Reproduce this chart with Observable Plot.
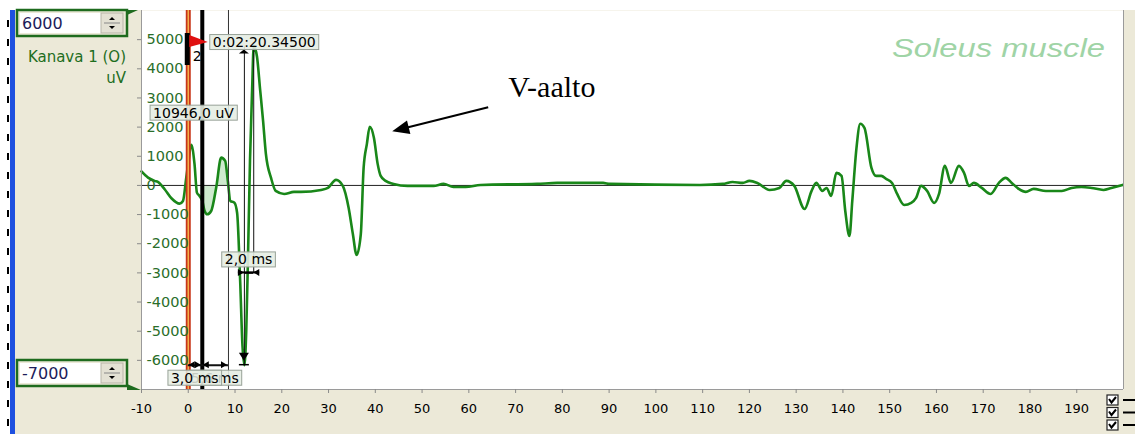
<!DOCTYPE html>
<html>
<head>
<meta charset="utf-8">
<script src="https://cdn.jsdelivr.net/npm/d3@7"></script>
<script src="https://cdn.jsdelivr.net/npm/@observablehq/plot@0.6"></script>
<style>
  html, body { margin: 0; padding: 0; background: #fff; }
  #chart { position: relative; width: 1135px; height: 434px; overflow: hidden; background: #fff; }
  #panel { position: absolute; left: 15px; top: 10px; width: 1120px; height: 424px; background: #ece9d8; }
  #chart svg { position: absolute; left: 0; top: 0; }
</style>
</head>
<body>
<div id="chart"><div id="panel"></div></div>
<script>
// EMG sweep, channel 1: time after stimulus (ms) and amplitude (uV)
const timeMs = [
  -10, -8.6, -7.2, -6.5, -5.05, -3.6, -1.85, -1.13, -0.43, 0.06,
  0.64, 1.34, 1.85, 2.41, 3.0, 3.5, 4.05, 4.9, 5.97, 7.04,
  7.9, 8.46, 9.0, 9.87, 10.45, 11.1, 11.6, 12.0, 12.4, 12.8,
  13.2, 13.65, 14.0, 14.7, 15.35, 16.0, 16.6, 17.7, 18.7, 20.5,
  22.6, 24.1, 28.4, 29.85, 31.6, 33.05, 34.3, 35.2, 36.0, 36.9,
  37.5, 38.2, 38.8, 39.7, 40.5, 41.15, 42.2, 43.9, 46.9, 52.45,
  54.6, 56.7, 59.3, 62.5, 74.6, 78.9, 88.7, 90.2, 109.4, 114.3,
  116.4, 118.6, 120.0, 121.7, 124.3, 126.4, 127.9, 129.6, 131.8, 133.3,
  134.3, 135.6, 136.5, 137.5, 138.6, 139.7, 140.5, 141.4, 142.0, 142.9,
  143.7, 144.6, 146.1, 147.1, 148.2, 149.25, 150.5, 151.6, 153.1, 154.6,
  155.65, 156.7, 158.0, 159.5, 160.55, 161.8, 163.1, 164.8, 165.9, 166.95,
  168.0, 169.7, 171.6, 173.35, 174.8, 176.1, 177.6, 179.1, 180.8, 183.4,
  186.8, 188.9, 191.0, 193.2, 195.7, 197.4, 199.8
];
const microvolts = [
  480, 268, 155, 120, -130, -440, -625, -533, 268, 842,
  1392, 729, -247, -361, -530, -876, -990, -876, -76, 955,
  842, 155, -533, -591, -945, -3280, -5515, -6166, -5000, -2250,
  840, 3250, 4780, 4415, 3313, 2216, 1082, 258, -189, -292,
  -223, -223, -155, -86, 189, -17, -773, -1667, -2388, -1667,
  601, 1426, 2010, 1632, 739, 326, 155, 52, -17, -17,
  52, -52, -52, 17, 52, 86, 86, 52, 17, 52,
  120, 86, 155, 86, -155, -86, 155, -17, -808, -189,
  86, -189, -86, -361, 430, 326, -876, -1735, -533, 1289,
  2113, 1976, 601, 326, 326, 223, 86, -292, -670, -601,
  -430, -17, -189, -601, -292, 670, 86, 670, 430, -17,
  86, -86, -292, 86, 258, 86, -120, -223, -120, -189,
  -189, -86, -52, -86, -155, -86, 17
];

// Axis settings
const xDomain = [-10, 200];
const yDomain = [-7000, 6000];
const xTicks = [-10, 0, 10, 20, 30, 40, 50, 60, 70, 80, 90, 100, 110, 120, 130, 140, 150, 160, 170, 180, 190];
const yTicks = [5000, 4000, 3000, 2000, 1000, 0, -1000, -2000, -3000, -4000, -5000, -6000];

// Cursors (ms) and event marker
const cursorTimes = [0, 3.0, 8.6];
const markerNumber = "2";
const markerClock = "0:02:20.34500";
const channelName = "Kanava 1 (O)";
const channelUnit = "uV";
const muscleName = "Soleus muscle";
const waveName = "V-aalto";

const data = timeMs.map((t, i) => ({t, v: microvolts[i]}));

// M-wave: trough and peak inside the early window
const early = data.filter(d => d.t > 10 && d.t < 20);
const trough = d3.least(early, d => d.v);
const peak = d3.greatest(early, d => d.v);
const amplitude = peak.v - trough.v;
const latency = peak.t - trough.t;
// V-wave: largest deflection between 30 and 50 ms
const vWave = d3.greatest(data.filter(d => d.t > 30 && d.t < 50), d => d.v);

const fmt = v => v.toFixed(1).replace(".", ",");
const ampLabelLevel = 2480;
const latencyLevel = -3000;

const GREEN = "#198719";

const plot = Plot.plot({
  width: 1135,
  height: 434,
  marginLeft: 141,
  marginRight: 12,
  marginTop: 10,
  marginBottom: 45,
  style: {background: "transparent", fontFamily: "'DejaVu Sans', sans-serif", overflow: "visible"},
  x: {domain: xDomain},
  y: {domain: yDomain},
  marks: [
    Plot.frame({fill: "white", stroke: null}),
    // shaded area between the two right-hand cursors
    Plot.areaY(data.filter(d => d.t >= cursorTimes[1] && d.t <= cursorTimes[2]),
      {x: "t", y1: 0, y2: "v", fill: "#a6d8a6", fillOpacity: 0.55, curve: "monotone-x"}),
    Plot.ruleY([0], {stroke: "#222", strokeWidth: 1}),
    Plot.line(data, {x: "t", y: "v", stroke: GREEN, strokeWidth: 2.6, curve: "monotone-x"}),
    // cursors
    Plot.ruleX([cursorTimes[0]], {stroke: "#c8361a", strokeWidth: 5}),
    Plot.ruleX([cursorTimes[0]], {stroke: "#f3b04a", strokeWidth: 1.5}),
    Plot.ruleX([cursorTimes[1]], {stroke: "#000", strokeWidth: 4}),
    Plot.ruleX([cursorTimes[2]], {stroke: "#333", strokeWidth: 1}),
    // amplitude and latency measurement lines
    Plot.ruleX([trough.t], {y1: trough.v, y2: peak.v, stroke: "#111", strokeWidth: 1}),
    Plot.ruleX([peak.t], {y1: latencyLevel, y2: peak.v, stroke: "#111", strokeWidth: 1}),
    Plot.ruleY([latencyLevel], {x1: trough.t, x2: peak.t, stroke: "#111", strokeWidth: 2}),
    Plot.ruleY([trough.v], {x1: cursorTimes[0], x2: cursorTimes[2], stroke: "#111", strokeWidth: 2}),
    // plot borders
    Plot.ruleX(xDomain, {stroke: "#9a9a9a", strokeWidth: 1}),
    Plot.ruleY([yDomain[0]], {stroke: "#9a9a9a", strokeWidth: 1}),
    // axes
    Plot.axisX({ticks: xTicks, tickFormat: d => String(d), tickSize: 4, tickPadding: 10,
      fontSize: 13, stroke: "#8a8a8a", fill: "#000", label: null}),
    Plot.axisY({ticks: yTicks, tickFormat: () => "", tickSize: 4, stroke: "#8a8a8a", label: null}),
    Plot.text(yTicks, {y: d => d, text: d => String(d), frameAnchor: "left", dx: 5,
      textAnchor: "start", fontSize: 14.5, fill: "#2a6e2a"})
  ]
});

document.getElementById("chart").appendChild(plot);

const sx = plot.scale("x"), sy = plot.scale("y");
const X = sx.apply ? v => sx.apply(v) : d3.scaleLinear(sx.domain, sx.range);
const Y = sy.apply ? v => sy.apply(v) : d3.scaleLinear(sy.domain, sy.range);

const svg = d3.select(plot);
const g = svg.append("g").attr("text-anchor", "start");

function tri(tipX, tipY, dirX, dirY, len, half, fill = "#000") {
  const n = Math.hypot(dirX, dirY), ux = dirX / n, uy = dirY / n;
  const bx = tipX - ux * len, by = tipY - uy * len;
  const px = -uy * half, py = ux * half;
  g.append("polygon")
    .attr("points", `${tipX},${tipY} ${bx + px},${by + py} ${bx - px},${by - py}`)
    .attr("fill", fill);
}

function labelBox(text, x, y, anchor, opacity = 0.9) {
  const grp = g.append("g");
  const rect = grp.append("rect");
  const t = grp.append("text")
    .attr("x", x).attr("y", y).attr("dy", "0.36em")
    .attr("text-anchor", anchor)
    .attr("font-family", "'DejaVu Sans', sans-serif")
    .attr("font-size", 14)
    .attr("fill", "#000")
    .text(text);
  const bb = t.node().getBBox();
  rect.attr("x", bb.x - 3).attr("y", bb.y + 0.5)
    .attr("width", bb.width + 6).attr("height", bb.height - 1)
    .attr("fill", "#e6ede3").attr("fill-opacity", opacity)
    .attr("stroke", "#98a298").attr("stroke-width", 1);
  return grp;
}

// amplitude arrows
const xT = X(trough.t), xP = X(peak.t);
tri(xT, Y(peak.v) + 4, 0, -1, 4, 5);
tri(xT, Y(trough.v) - 4, 0, 1, 8, 5);
g.append("line").attr("x1", xT - 5).attr("x2", xT + 5)
  .attr("y1", Y(trough.v)).attr("y2", Y(trough.v)).attr("stroke", "#000").attr("stroke-width", 1.5);

// latency arrows (pointing inward from outside)
const yL = Y(latencyLevel);
tri(xT, yL, 1, 0, 6, 3.5);
tri(xP, yL, -1, 0, 6, 3.5);
g.append("line").attr("x1", xT - 6).attr("x2", xP + 6).attr("y1", yL).attr("y2", yL)
  .attr("stroke", "#000").attr("stroke-width", 2);

// cursor interval arrows
const yB = Y(trough.v);
for (let i = 0; i < cursorTimes.length - 1; i++) {
  const a = X(cursorTimes[i]), b = X(cursorTimes[i + 1]);
  tri(a + 1, yB, -1, 0, 6, 3.5);
  tri(b - 1, yB, 1, 0, 6, 3.5);
}

// labels
labelBox(`${fmt(cursorTimes[2] - cursorTimes[1])} ms`, X((cursorTimes[1] + cursorTimes[2]) / 2), yB + 13, "middle", 0.9);
labelBox(`${fmt(cursorTimes[1] - cursorTimes[0])} ms`, X((cursorTimes[0] + cursorTimes[1]) / 2), yB + 13, "middle", 0.85);
labelBox(`${fmt(latency)} ms`, X((trough.t + peak.t) / 2), yL - 13, "middle");
labelBox(`${fmt(amplitude)} uV`, xT - 10, Y(ampLabelLevel), "end");

// event marker flag at the stimulus
const x0 = X(cursorTimes[0]);
const yFlag = 42;
g.append("rect").attr("x", x0 - 3).attr("y", yFlag - 9).attr("width", 5).attr("height", 32).attr("fill", "#000");
g.append("polygon")
  .attr("points", `${x0 + 1.5},${yFlag - 7} ${x0 + 20},${yFlag} ${x0 + 1.5},${yFlag + 5}`)
  .attr("fill", "#e01010");
g.append("text").attr("x", x0 + 5).attr("y", yFlag + 19).attr("text-anchor", "start")
  .attr("font-family", "'DejaVu Sans', sans-serif").attr("font-size", 14).attr("fill", "#000")
  .text(markerNumber);
labelBox(markerClock, x0 + 25, yFlag, "start");

// muscle title
g.append("text").attr("x", 892).attr("y", 57).attr("text-anchor", "start")
  .attr("font-family", "'Liberation Sans', Arial, sans-serif").attr("font-style", "italic")
  .attr("font-size", 25).attr("fill", "#9fd4a6")
  .attr("textLength", 213).attr("lengthAdjust", "spacingAndGlyphs")
  .text(muscleName);

// V-wave annotation
const vx = X(vWave.t), vy = Y(vWave.v);
const tipX = vx + 23, tipY = vy + 5, tailX = vx + 119, tailY = vy - 19;
g.append("line").attr("x1", tailX).attr("y1", tailY).attr("x2", tipX + 12).attr("y2", tipY - 3)
  .attr("stroke", "#000").attr("stroke-width", 2);
tri(tipX, tipY, tipX - tailX, tipY - tailY, 17, 7);
g.append("text").attr("x", vx + 139).attr("y", vy - 29.5).attr("text-anchor", "start")
  .attr("font-family", "'Liberation Serif', 'Times New Roman', serif").attr("font-size", 30)
  .attr("fill", "#000").text(waveName);

// left channel panel
const side = svg.insert("g", ":first-child").attr("text-anchor", "start");
side.append("rect").attr("x", 10).attr("y", 10).attr("width", 5).attr("height", 424).attr("fill", "#1e50e0");
side.append("line").attr("x1", 8).attr("x2", 8).attr("y1", 20).attr("y2", 434)
  .attr("stroke", "#000").attr("stroke-width", 2).attr("stroke-dasharray", "7,12");

function rangeBox(y, value, tabDown) {
  side.append("rect").attr("x", 17).attr("y", y).attr("width", 110).attr("height", 26)
    .attr("fill", "#ece9d8").attr("stroke", "#1e6b1e").attr("stroke-width", 2.5);
  side.append("rect").attr("x", 20).attr("y", y + 3).attr("width", 81).attr("height", 20).attr("fill", "#fff");
  side.append("rect").attr("x", 101).attr("y", y + 3).attr("width", 22).attr("height", 20)
    .attr("fill", "#e4e1d4").attr("stroke", "#b8b5a8");
  side.append("line").attr("x1", 104).attr("x2", 120).attr("y1", y + 13).attr("y2", y + 13).attr("stroke", "#888");
  side.append("polygon").attr("points", `${109},${y + 10} ${115},${y + 10} ${112},${y + 7}`).attr("fill", "#000");
  side.append("polygon").attr("points", `${109},${y + 16} ${115},${y + 16} ${112},${y + 19}`).attr("fill", "#000");
  side.append("text").attr("x", 22).attr("y", y + 19).attr("text-anchor", "start")
    .attr("font-family", "'DejaVu Sans', sans-serif").attr("font-size", 16).attr("fill", "#1c1c5a")
    .text(String(value));
  if (tabDown) {
    side.append("polygon").attr("points", `127,${y + 24} 141,${y + 30} 127,${y + 30}`).attr("fill", "#1e6b1e");
  } else {
    side.append("polygon").attr("points", `127,${y} 138,${y} 127,${y + 5}`).attr("fill", "#1e6b1e");
  }
}
rangeBox(10, yDomain[1], false);
rangeBox(360, yDomain[0], true);
side.append("text").attr("x", 126).attr("y", 62).attr("text-anchor", "end")
  .attr("font-family", "'DejaVu Sans', sans-serif").attr("font-size", 15).attr("fill", "#1e6e1e")
  .text(channelName);
side.append("text").attr("x", 126).attr("y", 83).attr("text-anchor", "end")
  .attr("font-family", "'DejaVu Sans', sans-serif").attr("font-size", 15).attr("fill", "#1e6e1e")
  .text(channelUnit);

// display option checkboxes
[400, 412.5, 425].forEach(cy => {
  g.append("rect").attr("x", 1107).attr("y", cy - 5).attr("width", 11).attr("height", 10)
    .attr("fill", "#fff").attr("stroke", "#222").attr("stroke-width", 1.2);
  g.append("path").attr("d", `M1109,${cy - 1} L1111.5,${cy + 2.5} L1116,${cy - 3}`)
    .attr("fill", "none").attr("stroke", "#000").attr("stroke-width", 2);
  g.append("line").attr("x1", 1123).attr("x2", 1135).attr("y1", cy).attr("y2", cy)
    .attr("stroke", "#000").attr("stroke-width", 2);
});
</script>
</body>
</html>
